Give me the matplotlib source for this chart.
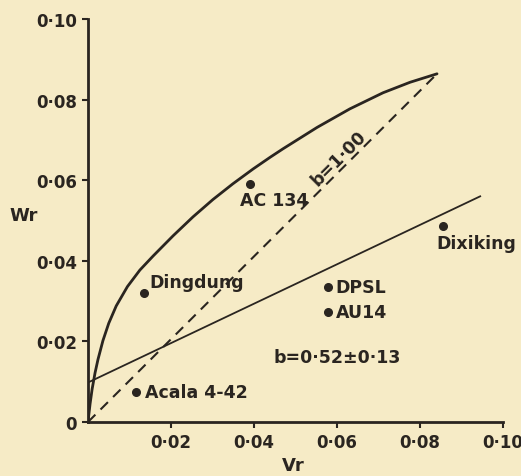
import numpy as np
import matplotlib.pyplot as plt

# Wr / Vr data
names = ["AC 134", "Dixiking", "Dingdung", "DPSL", "AU14", "Acala 4-42"]
vr = [0.0390, 0.0855, 0.0135, 0.0578, 0.0578, 0.0116]
wr = [0.0590, 0.0486, 0.0320, 0.0335, 0.0273, 0.0074]

# limiting parabola
curve_vr = [0.0, 0.0005, 0.0010, 0.0017, 0.0024, 0.0036, 0.0050, 0.0068,
            0.0095, 0.0125, 0.0157, 0.0205, 0.0253, 0.0301, 0.0349, 0.0398,
            0.0439, 0.0470, 0.0552, 0.0631, 0.0711, 0.0776, 0.0841]
curve_wr = [0.0, 0.0045, 0.0082, 0.0122, 0.0155, 0.0202, 0.0245, 0.0288,
            0.0336, 0.0377, 0.0412, 0.0462, 0.0509, 0.0552, 0.0591, 0.0628,
            0.0657, 0.0678, 0.0731, 0.0777, 0.0817, 0.0843, 0.0864]

# b = 1.00 line and fitted regression line (b = 0.52)
unit_vr = [0.0, 0.0841]
unit_wr = [0.0, 0.0864]
reg_vr = [0.0, 0.0945]
reg_wr = [0.0098, 0.0560]

xticks = [0.02, 0.04, 0.06, 0.08, 0.10]
xlabels = ["0·02", "0·04", "0·06", "0·08", "0·10"]
yticks = [0, 0.02, 0.04, 0.06, 0.08, 0.10]
ylabels = ["0", "0·02", "0·04", "0·06", "0·08", "0·10"]

paper = "#f6ebc6"
ink = "#2a2520"

fig = plt.figure(figsize=(5.21, 4.77), dpi=100, facecolor=paper)
ax = fig.add_axes([88 / 521, 1 - 423 / 477, 415 / 521, 403 / 477])
ax.set_facecolor(paper)

ax.plot(curve_vr, curve_wr, color=ink, lw=2.0, solid_capstyle="round",
        solid_joinstyle="round")
ax.plot(unit_vr, unit_wr, color=ink, lw=1.5, dashes=(5, 3.5))
ax.plot(reg_vr, reg_wr, color=ink, lw=1.3)
ax.plot(vr, wr, "o", color=ink, ms=5.5)

# label offsets in pixels from each point
offsets = [(-10, -16), (-6, -17), (5, 11), (8, 0), (8, 0), (9, 0)]
for n, x, y, off in zip(names, vr, wr, offsets):
    ax.annotate(n, (x, y), xytext=off, textcoords="offset pixels",
                ha="left", va="center", fontsize=12.5, fontweight="bold",
                color=ink)

ax.text(0.0605, 0.0655, "b=1·00", rotation=45, ha="center", va="center",
        fontsize=12.5, fontweight="bold", color=ink)
ax.text(0.0446, 0.0161, "b=0·52±0·13", ha="left", va="center",
        fontsize=12.5, fontweight="bold", color=ink)

ax.set_xlim(0, 0.10)
ax.set_ylim(0, 0.10)
ax.set_xticks(xticks)
ax.set_xticklabels(xlabels)
ax.set_yticks(yticks)
ax.set_yticklabels(ylabels)
for s in ["top", "right"]:
    ax.spines[s].set_visible(False)
for s in ["left", "bottom"]:
    ax.spines[s].set_linewidth(2.0)
    ax.spines[s].set_color(ink)
ax.tick_params(direction="out", length=4, width=1.5, colors=ink,
               labelsize=12, pad=4)
for lab in ax.get_xticklabels() + ax.get_yticklabels():
    lab.set_fontweight("bold")

fig.text(24 / 521, 1 - 216 / 477, "Wr", ha="center", va="center",
         fontsize=13, fontweight="bold", color=ink)
fig.text(293 / 521, 1 - 466 / 477, "Vr", ha="center", va="center",
         fontsize=13, fontweight="bold", color=ink)

fig.savefig("out.png", dpi=100, facecolor=paper)
